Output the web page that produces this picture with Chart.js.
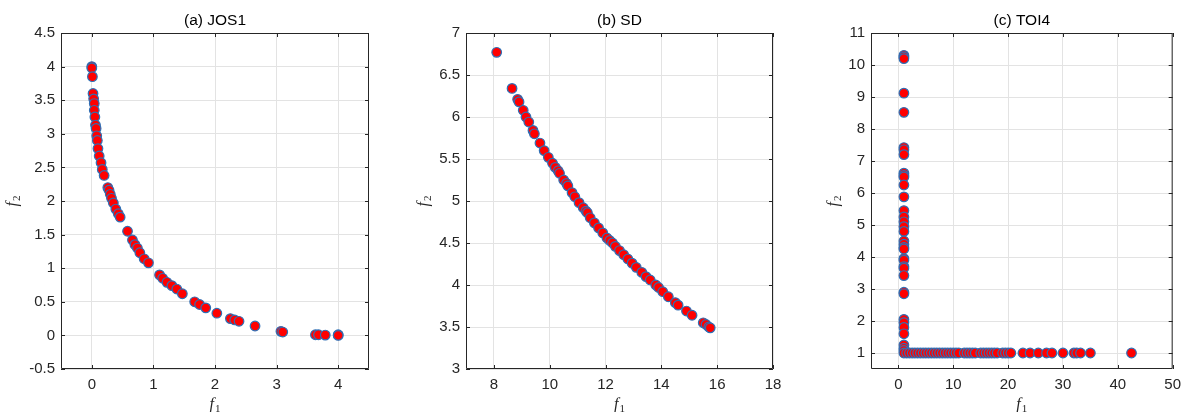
<!DOCTYPE html>
<html>
<head>
<meta charset="utf-8">
<script src="https://cdn.jsdelivr.net/npm/chart.js@4.4.1/dist/chart.umd.min.js"></script>
<style>
  html, body { margin: 0; padding: 0; background: #fff; }
  .panel { position: absolute; top: 0; width: 396px; height: 412px; }
</style>
</head>
<body>
<div class="panel" style="left:0px"><canvas id="c1"></canvas></div>
<div class="panel" style="left:396px"><canvas id="c2"></canvas></div>
<div class="panel" style="left:792px"><canvas id="c3"></canvas></div>
<script>
// (a) JOS1 front
const jos1F1 = [0, 0, 0.01, 0.02, 0.03, 0.04, 0.04, 0.05, 0.06, 0.07, 0.08, 0.09, 0.1, 0.12, 0.15, 0.17, 0.2,
  0.26, 0.28, 0.3, 0.32, 0.35, 0.39, 0.43, 0.46, 0.58, 0.66, 0.7, 0.74, 0.78, 0.85, 0.92,
  1.1, 1.15, 1.22, 1.3, 1.38, 1.47, 1.67, 1.75, 1.85, 2.03, 2.25, 2.32, 2.39, 2.65,
  3.07, 3.1, 3.63, 3.68, 3.79, 4, 4];
const jos1F2 = [4, 3.98, 3.85, 3.6, 3.52, 3.45, 3.35, 3.25, 3.13, 3.08, 2.97, 2.9, 2.78, 2.67, 2.57, 2.47, 2.38,
  2.2, 2.16, 2.1, 2.04, 1.97, 1.88, 1.81, 1.76, 1.55, 1.42, 1.35, 1.3, 1.23, 1.14, 1.08,
  0.9, 0.85, 0.79, 0.74, 0.69, 0.62, 0.5, 0.46, 0.41, 0.33, 0.25, 0.23, 0.21, 0.14,
  0.06, 0.05, 0.01, 0.01, 0.005, 0.01, 0];

// (b) SD front
const sdF1 = [8.1, 8.65, 8.85, 8.9, 9.05, 9.15, 9.25, 9.4, 9.45, 9.65, 9.8, 9.95, 10.1, 10.2, 10.3, 10.35, 10.5,
  10.6, 10.65, 10.8, 10.9, 11.05, 11.2, 11.3, 11.35, 11.45, 11.6, 11.75, 11.9, 12.05, 12.15, 12.25,
  12.35, 12.5, 12.65, 12.8, 12.95, 13.1, 13.3, 13.45, 13.6, 13.8, 13.9, 14.05, 14.25, 14.5, 14.6,
  14.9, 15.1, 15.5, 15.6, 15.7, 15.75];
const sdF2 = [6.77, 6.34, 6.21, 6.18, 6.08, 6.0, 5.94, 5.84, 5.8, 5.69, 5.6, 5.52, 5.45, 5.4, 5.36, 5.33, 5.25,
  5.21, 5.18, 5.1, 5.05, 4.98, 4.92, 4.88, 4.86, 4.8, 4.74, 4.68, 4.62, 4.56, 4.53, 4.5,
  4.46, 4.41, 4.36, 4.31, 4.26, 4.21, 4.15, 4.1, 4.06, 4.0, 3.97, 3.92, 3.86, 3.79, 3.76,
  3.69, 3.64, 3.55, 3.53, 3.5, 3.49];

// (c) TOI4 front: vertical branch at f1 = 1, horizontal branch at f2 = 1
const toiF1 = [1, 1, 1, 1, 1, 1, 1, 1, 1, 1, 1, 1, 1, 1, 1, 1, 1, 1, 1, 1, 1, 1, 1, 1, 1, 1, 1, 1, 1, 1, 1, 1, 1, 1, 1, 1, 1,
  1.5, 2, 2.5, 3, 3.5, 4, 4.5, 5, 5.5, 6, 6.5, 7, 7.5, 8, 8.5, 9, 9.5, 10, 10.5, 11, 12, 12.5, 13, 13.5, 14,
  15, 15.5, 16, 16.5, 17, 17.5, 18, 19, 19.5, 20, 20.5, 22.7, 24, 25.5, 27, 28, 30, 32, 32.5, 33.2, 35, 42.5];
const toiF2 = [10.3, 10.25, 10.2, 9.12, 8.52, 7.42, 7.35, 7.2, 6.62, 6.55, 6.5, 6.25, 5.88, 5.45, 5.25, 5.1, 4.95,
  4.8, 4.5, 4.4, 4.3, 4.25, 3.95, 3.9, 3.7, 3.65, 3.42, 2.9, 2.85, 2.05, 1.95, 1.8, 1.6, 1.25, 1.15, 1.08, 1.0,
  1, 1, 1, 1, 1, 1, 1, 1, 1, 1, 1, 1, 1, 1, 1, 1, 1, 1, 1, 1, 1, 1, 1, 1, 1,
  1, 1, 1, 1, 1, 1, 1, 1, 1, 1, 1, 1, 1, 1, 1, 1, 1, 1, 1, 1, 1, 1];

// tick labels
const jos1XTicks = [0, 1, 2, 3, 4];
const jos1YTicks = [-0.5, 0, 0.5, 1, 1.5, 2, 2.5, 3, 3.5, 4, 4.5];
const sdXTicks = [8, 10, 12, 14, 16, 18];
const sdYTicks = [3, 3.5, 4, 4.5, 5, 5.5, 6, 6.5, 7];
const toiXTicks = [0, 10, 20, 30, 40, 50];
const toiYTicks = [1, 2, 3, 4, 5, 6, 7, 8, 9, 10, 11];

const AXIS = '#262626';
const GRID = '#e3e3e3';
const FONT = '"Liberation Sans", Arial, sans-serif';

// box, inward ticks, title and f1/f2 labels, MATLAB style
const matlabFrame = {
  id: 'matlabFrame',
  afterDraw(chart, args, opts) {
    const {ctx, chartArea: a, scales: {x, y}} = chart;
    ctx.save();
    ctx.strokeStyle = AXIS;
    ctx.lineWidth = 1;
    ctx.beginPath();
    ctx.rect(a.left + 0.5, a.top + 0.5, a.right - a.left - 1, a.bottom - a.top - 1);
    ctx.stroke();
    const tl = 4;
    ctx.beginPath();
    x.ticks.forEach(t => {
      const px = Math.round(x.getPixelForValue(t.value)) + 0.5;
      ctx.moveTo(px, a.bottom); ctx.lineTo(px, a.bottom - tl);
      ctx.moveTo(px, a.top); ctx.lineTo(px, a.top + tl);
    });
    y.ticks.forEach(t => {
      const py = Math.round(y.getPixelForValue(t.value)) + 0.5;
      ctx.moveTo(a.left, py); ctx.lineTo(a.left + tl, py);
      ctx.moveTo(a.right, py); ctx.lineTo(a.right - tl, py);
    });
    ctx.stroke();

    const cx = (a.left + a.right) / 2;
    ctx.fillStyle = '#000';
    ctx.font = '15.5px ' + FONT;
    ctx.textAlign = 'center';
    ctx.textBaseline = 'middle';
    ctx.fillText(opts.title, cx, 21);

    // f with subscript
    const sub = (label, n) => {
      ctx.font = 'italic 16px "Liberation Serif", serif';
      const w1 = ctx.measureText(label).width;
      ctx.font = '11px "Liberation Serif", serif';
      const w2 = ctx.measureText(n).width;
      const x0 = -(w1 + w2 + 1) / 2;
      ctx.textAlign = 'left';
      ctx.textBaseline = 'alphabetic';
      ctx.font = 'italic 16px "Liberation Serif", serif';
      ctx.fillStyle = AXIS;
      ctx.fillText(label, x0, 5);
      ctx.font = '11px "Liberation Serif", serif';
      ctx.fillText(n, x0 + w1 + 1, 8);
    };
    ctx.save();
    ctx.translate(cx, 404);
    sub('f', '1');
    ctx.restore();
    ctx.save();
    ctx.translate(a.left - opts.yLabelOff, (a.top + a.bottom) / 2);
    ctx.rotate(-Math.PI / 2);
    sub('f', '2');
    ctx.restore();
    ctx.restore();
  }
};

function makePanel(id, f1, f2, xr, yr, xTicks, yTicks, yW, padR, title, yLabelOff) {
  const pts = f1.map((v, i) => ({x: v, y: f2[i]}));
  return new Chart(document.getElementById(id), {
    type: 'scatter',
    data: {
      datasets: [{
        data: pts,
        backgroundColor: '#ff0000',
        borderColor: '#2f6fb5',
        borderWidth: 1.2,
        pointRadius: 4.8,
        pointHoverRadius: 4.8
      }]
    },
    options: {
      responsive: true,
      maintainAspectRatio: false,
      animation: false,
      devicePixelRatio: 1,
      layout: {padding: {top: 33, right: padR, bottom: 0, left: 0}},
      plugins: {
        legend: {display: false},
        tooltip: {enabled: false},
        matlabFrame: {title: title, yLabelOff: yLabelOff}
      },
      scales: {
        x: {
          type: 'linear',
          min: xr[0], max: xr[1],
          afterBuildTicks: s => { s.ticks = xTicks.map(v => ({value: v})); },
          afterFit: s => { s.height = 43; },
          grid: {color: GRID, lineWidth: 1, drawTicks: false},
          border: {display: false},
          ticks: {color: AXIS, font: {family: FONT, size: 15}, padding: 7, maxRotation: 0,
            callback: v => String(v)}
        },
        y: {
          type: 'linear',
          min: yr[0], max: yr[1],
          afterBuildTicks: s => { s.ticks = yTicks.map(v => ({value: v})); },
          afterFit: s => { s.width = yW; },
          grid: {color: GRID, lineWidth: 1, drawTicks: false},
          border: {display: false},
          ticks: {color: AXIS, font: {family: FONT, size: 15}, padding: 6,
            callback: v => String(v)}
        }
      }
    },
    plugins: [matlabFrame]
  });
}

makePanel('c1', jos1F1, jos1F2, [-0.5, 4.5], [-0.5, 4.5], jos1XTicks, jos1YTicks, 61, 27, '(a) JOS1', 49);
makePanel('c2', sdF1, sdF2, [7, 18], [3, 7], sdXTicks, sdYTicks, 70, 19, '(b) SD', 43);
makePanel('c3', toiF1, toiF2, [-5, 50], [0.5, 11], toiXTicks, toiYTicks, 79, 9, '(c) TOI4', 38);
</script>
</body>
</html>
